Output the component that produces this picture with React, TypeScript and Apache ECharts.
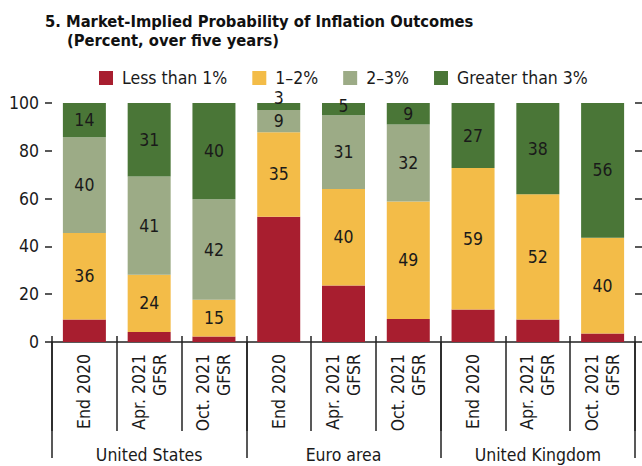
import React, { useEffect, useRef } from "react";
import * as echarts from "echarts";

const categories = [
  "End 2020", "Apr. 2021\nGFSR", "Oct. 2021\nGFSR",
  "End 2020", "Apr. 2021\nGFSR", "Oct. 2021\nGFSR",
  "End 2020", "Apr. 2021\nGFSR", "Oct. 2021\nGFSR",
];
const groups = ["United States", "Euro area", "United Kingdom"];
const yTicks = [0, 20, 40, 60, 80, 100];

const lessThan1 = [9.4, 4.2, 2.3, 52.4, 23.6, 9.6, 13.6, 9.4, 3.6];
const oneToTwo = [36.2, 23.9, 15.4, 35.4, 40.4, 49.2, 59.2, 52.4, 40.0];
const twoToThree = [40.1, 41.1, 42.0, 9.3, 30.9, 32.2, null, null, null];
const greaterThan3 = [14.3, 30.8, 40.3, 2.9, 5.1, 9.0, 27.2, 38.2, 56.4];

const FONT = "'DejaVu Sans Condensed', 'Liberation Sans Narrow', sans-serif";
const TXT = "#1a1a1a";
const FS = 17.5;

export default function App() {
  const ref = useRef<HTMLDivElement>(null);
  useEffect(() => {
    document.body.style.margin = "0";
    if (!ref.current) return;
    const chart = echarts.init(ref.current, null, { renderer: "svg" });
    const labelCfg = {
      show: true,
      position: "inside",
      fontFamily: FONT,
      fontSize: FS,
      color: TXT,
      formatter: (p: any) => (p.value == null ? "" : String(Math.round(p.value))),
    };
    chart.setOption({
      animation: false,
      textStyle: { fontFamily: FONT },
      title: [
        {
          text: "5. Market-Implied Probability of Inflation Outcomes",
          left: 45, top: 13, padding: 0,
          textStyle: { fontFamily: FONT, fontWeight: "bold", fontSize: 16.4, color: "#111" },
        },
        {
          text: "(Percent, over five years)",
          left: 67, top: 32, padding: 0,
          textStyle: { fontFamily: FONT, fontWeight: "bold", fontSize: 16.4, color: "#111" },
        },
      ],
      legend: {
        left: 99, top: 69, padding: 0,
        icon: "rect", itemWidth: 14, itemHeight: 14, itemGap: 25,
        textStyle: { fontFamily: FONT, fontSize: FS, color: TXT, padding: [0, 0, 0, 4] },
        data: ["Less than 1%", "1–2%", "2–3%", "Greater than 3%"],
      },
      grid: { left: 52, right: 7, top: 103, bottom: 124 },
      xAxis: [
        {
          type: "category", data: categories, position: "bottom",
          axisLine: { show: true, lineStyle: { color: "#222", width: 1.5 } },
          axisTick: { show: true, interval: 0, length: 89, lineStyle: { color: "#222", width: 1.5 } },
          axisLabel: {
            interval: 0, rotate: 90, margin: 12, fontFamily: FONT, fontSize: FS,
            lineHeight: 21, color: TXT,
          },
        },
        {
          type: "category", data: groups, position: "bottom",
          axisLine: { show: false },
          axisTick: { show: true, interval: 0, length: 116, lineStyle: { color: "#222", width: 1.5 } },
          axisLabel: { interval: 0, margin: 104, fontFamily: FONT, fontSize: FS, color: TXT },
        },
        {
          type: "category", data: categories, position: "bottom",
          axisLine: { show: false },
          axisTick: { show: true, inside: true, interval: 0, length: 6, lineStyle: { color: "#222", width: 1.5 } },
          axisLabel: { show: false },
        },
      ],
      yAxis: [
        {
          type: "value", min: 0, max: 100, interval: 20, position: "left",
          axisLine: { show: false },
          axisTick: { show: true, length: 7, lineStyle: { color: "#222", width: 1.5 } },
          splitLine: { show: false },
          axisLabel: {
            margin: 13, fontFamily: FONT, fontSize: FS, color: TXT,
            formatter: (v: number) => (yTicks.includes(v) ? String(v) : ""),
          },
        },
        {
          type: "value", min: 0, max: 100, interval: 20, position: "right",
          axisLine: { show: false },
          axisTick: { show: true, length: 7, lineStyle: { color: "#222", width: 1.5 } },
          splitLine: { show: false },
          axisLabel: { show: false },
        },
      ],
      series: [
        {
          name: "Less than 1%", type: "bar", stack: "t", barWidth: 43,
          itemStyle: { color: "#A81E2F" }, data: lessThan1, label: { show: false },
        },
        {
          name: "1–2%", type: "bar", stack: "t", barWidth: 43,
          itemStyle: { color: "#F3BC48" }, data: oneToTwo, label: labelCfg,
        },
        {
          name: "2–3%", type: "bar", stack: "t", barWidth: 43,
          itemStyle: { color: "#9CAB86" }, data: twoToThree, label: labelCfg,
        },
        {
          name: "Greater than 3%", type: "bar", stack: "t", barWidth: 43,
          itemStyle: { color: "#4A7637" },
          data: greaterThan3.map((v) => (v < 4 ? { value: v, label: { offset: [0, -8] } } : v < 7 ? { value: v, label: { offset: [0, -3] } } : v)),
          label: labelCfg,
        },
      ],
    });
    return () => chart.dispose();
  }, []);
  return <div ref={ref} style={{ width: 642, height: 466, position: "absolute", left: 0, top: 0 }} />;
}
